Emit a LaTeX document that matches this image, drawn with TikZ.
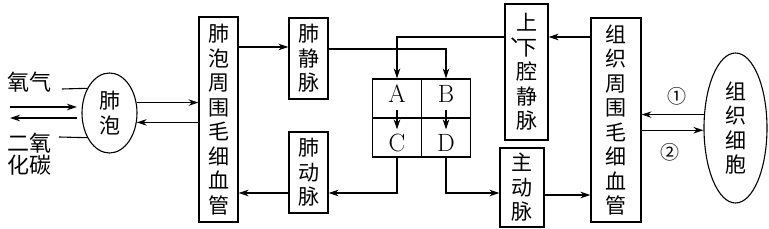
\documentclass[tikz,border=0pt]{standalone}
\usepackage{fontspec}
\newfontfamily\cjk{Noto Sans CJK SC}
\usetikzlibrary{
  arrows.meta,      % Stealth 箭头
  shapes.geometric, % 椭圆节点
  calc              % 坐标计算
}
\tikzset{
  organ box/.style={
    draw,
    line width=1.1pt,
    inner sep=0pt,
    align=center,
    font=\cjk\fontsize{21}{24.5}\selectfont
  },
  organ oval/.style={
    ellipse,
    draw,
    line width=1.1pt,
    inner sep=0pt,
    align=center,
    font=\cjk\fontsize{21}{24.5}\selectfont
  },
  heart cell/.style={
    draw,
    line width=1.1pt,
    inner sep=0pt,
    minimum width=49pt,
    minimum height=39pt
  },
  heart letter/.style={
    inner sep=0pt,
    font=\fontsize{25}{25}\selectfont
  },
  gas label/.style={
    align=center,
    inner sep=0pt,
    font=\cjk\fontsize{22}{22}\selectfont
  },
  step label/.style={
    inner sep=0pt,
    font=\cjk\fontsize{19}{19}\selectfont
  },
  flow/.style={
    -{Stealth[length=10pt,width=6.5pt]},
    line width=1.1pt
  },
  link/.style={
    line width=1.1pt
  }
}

\begin{document}
\begin{tikzpicture}[x=1pt, y=-1pt] % 以像素为单位，y 轴向下
  \useasboundingbox (0,0) rectangle (769,229); % 固定画布大小

  % 肺泡与气体进出
  \node[organ oval, minimum width=55pt, minimum height=80pt] (alv) at (109.5,113) {肺\\泡}; % 肺泡椭圆
  \node[gas label] (oxy) at (30,82) {氧气}; % 氧气文字
  \node[gas label] (co2) at (30,154) {二氧\\化碳}; % 二氧化碳文字
  \coordinate (oxytick) at (62,89);   % 氧气引线起点
  \coordinate (co2tick) at (59,137);  % 二氧化碳引线起点
  \draw[link] (oxytick) -- (alv.132); % 氧气引线
  \draw[link] (co2tick) -- (alv.228); % 二氧化碳引线
  \coordinate (o2in) at (10,107);     % 吸入箭头起点
  \coordinate (o2tip) at (77,107);    % 吸入箭头终点
  \coordinate (co2out) at (77,118);   % 呼出箭头起点
  \coordinate (co2tip) at (10,118);   % 呼出箭头终点
  \draw[flow] (o2in) -- (o2tip);
  \draw[flow] (co2out) -- (co2tip);

  % 肺循环的管道
  \node[organ box, minimum width=39pt, minimum height=205pt] (lungcap) at (218.5,119.5) {肺\\泡\\周\\围\\毛\\细\\血\\管}; % 肺泡周围毛细血管
  \node[organ box, minimum width=39pt, minimum height=81pt] (pv) at (308.5,58.5) {肺\\静\\脉}; % 肺静脉
  \node[organ box, minimum width=39pt, minimum height=81pt] (pa) at (308.5,172.5) {肺\\动\\脉}; % 肺动脉

  % 心脏四个腔
  \node[heart cell] (A) at (397,98.5) {};
  \node[heart cell] (B) at (446,98.5) {};
  \node[heart cell] (C) at (397,137.5) {};
  \node[heart cell] (D) at (446,137.5) {};
  \node[heart letter] (Alab) at ($(A.center)+(0,-5)$) {A};
  \node[heart letter] (Blab) at ($(B.center)+(0,-5)$) {B};
  \node[heart letter] (Clab) at ($(C.center)+(0,5)$) {C};
  \node[heart letter] (Dlab) at ($(D.center)+(0,5)$) {D};
  \draw[flow] ([yshift=-12pt]A.center) -- ([yshift=-12pt]C.north); % A 流向 C
  \draw[flow] ([yshift=-12pt]B.center) -- ([yshift=-12pt]D.north); % B 流向 D

  % 体循环的管道
  \node[organ box, minimum width=43pt, minimum height=136pt] (vc) at (526.5,72) {上\\{\llap{\raisebox{0.6em}{、}\kern-0.72em}下}\\腔\\静\\脉}; % 上、下腔静脉
  \node[organ box, minimum width=44pt, minimum height=79pt] (ao) at (522,187.5) {主\\动\\脉}; % 主动脉
  \node[organ box, minimum width=50pt, minimum height=204pt] (tiscap) at (616,120) {组\\织\\周\\围\\毛\\细\\血\\管}; % 组织周围毛细血管
  \node[organ oval, minimum width=63pt, minimum height=150pt] (cell) at (735.5,128) {组\\织\\细\\胞}; % 组织细胞

  % 肺泡与肺泡周围毛细血管的交换
  \draw[flow] (alv.21) -- (alv.21 -| lungcap.west);
  \draw[flow] (lungcap.west |- alv.-19) -- (alv.-19);

  % 肺循环连线
  \draw[flow] ([yshift=11.5pt]pv.west -| lungcap.east) -- ([yshift=11.5pt]pv.west); % 毛细血管到肺静脉
  \draw[flow] ([yshift=9.5pt]pv.east) -| (B.north); % 肺静脉到 B
  \draw[flow] ([yshift=-20.5pt]pa.west) -- ([yshift=-20.5pt]pa.west -| lungcap.east); % 肺动脉到毛细血管
  \draw[flow] (C.south) |- ([yshift=-20.5pt]pa.east); % C 到肺动脉

  % 体循环连线
  \draw[flow] (D.south) |- ([yshift=-5.5pt]ao.west); % D 到主动脉
  \draw[flow] ([yshift=-7.5pt]ao.east) -- ([yshift=-7.5pt]ao.east -| tiscap.west); % 主动脉到组织毛细血管
  \draw[flow] ([yshift=35pt]vc.east -| tiscap.west) -- ([yshift=35pt]vc.east); % 组织毛细血管到腔静脉
  \draw[flow] ([yshift=35pt]vc.west) -| (A.north); % 腔静脉到 A

  % 组织细胞处的交换
  \draw[flow] (cell.157) -- (cell.157 -| tiscap.east); % ①
  \draw[flow] (tiscap.east |- cell.184) -- (cell.184); % ②
  \node[step label] (s1) at (677,96) {①};
  \node[step label] (s2) at (670,152) {②};
\end{tikzpicture}
\end{document}
